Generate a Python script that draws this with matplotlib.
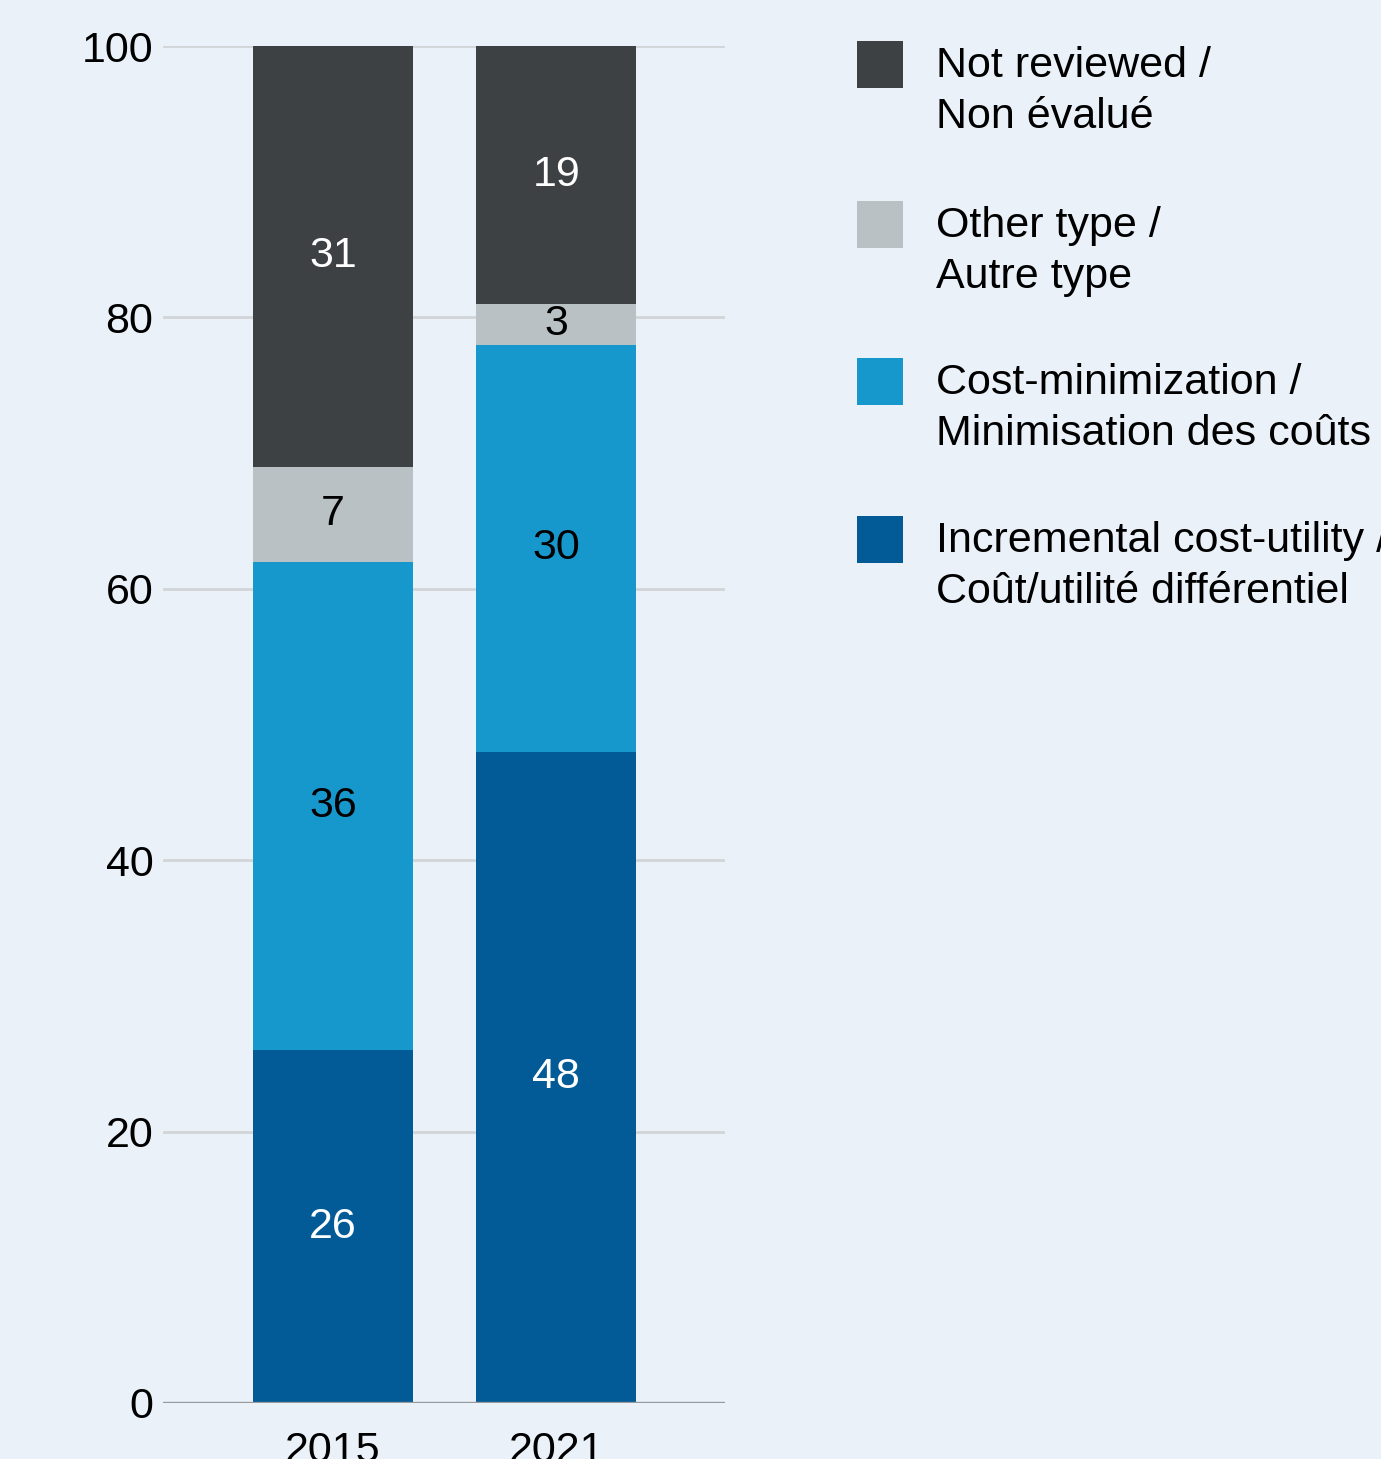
import matplotlib
matplotlib.use("Agg")
import matplotlib.pyplot as plt
from matplotlib.patches import Rectangle

plt.rcParams['font.family'] = ['Liberation Sans', 'DejaVu Sans']

years = ["2015", "2021"]
incremental_cost_utility = [26, 48]
cost_minimization = [36, 30]
other_type = [7, 3]
not_reviewed = [31, 19]

series = [
    ("Incremental cost-utility /\nCoût/utilité différentiel", incremental_cost_utility, "#025A96", "white"),
    ("Cost-minimization /\nMinimisation des coûts", cost_minimization, "#1798CD", "black"),
    ("Other type /\nAutre type", other_type, "#BAC1C4", "black"),
    ("Not reviewed /\nNon évalué", not_reviewed, "#3E4143", "white"),
]
yticks = [0, 20, 40, 60, 80, 100]

BG = "#EAF1F9"
FS = 31

W, H = 1381, 1459
fig = plt.figure(figsize=(W / 100, H / 100), dpi=100, facecolor=BG)
ax = fig.add_axes([163 / W, 1 - 1403 / H, (725 - 163) / W, (1403 - 46) / H])
ax.set_facecolor(BG)

x = list(range(len(years)))
bottom = [0] * len(years)
for label, vals, color, tcolor in series:
    ax.bar(x, vals, bottom=bottom, width=0.717, color=color, zorder=3, label=label)
    for xi, b, v in zip(x, bottom, vals):
        ax.text(xi, b + v / 2, str(v), ha="center", va="center",
                fontsize=FS, color=tcolor, zorder=4)
    bottom = [b + v for b, v in zip(bottom, vals)]

ax.set_xlim(-0.762, 1.756)
ax.set_ylim(0, 100)
ax.set_yticks(yticks)
ax.set_yticklabels([str(t) for t in yticks], fontsize=FS)
ax.set_xticks(x)
ax.set_xticklabels(years, fontsize=FS)
ax.tick_params(axis="both", length=0)
ax.tick_params(axis="y", pad=7)
ax.tick_params(axis="x", pad=20)
for t in yticks[1:]:
    ax.axhline(t, color="#D2D5D8", lw=2, zorder=1)
ax.axhline(0, color="#97999C", lw=2.4, zorder=5)
for s in ax.spines.values():
    s.set_visible(False)

# Legend, listed from the top segment down
entry_tops = [41, 201, 358, 516]
for (label, vals, color, tcolor), top in zip(series[::-1], entry_tops):
    fig.patches.append(Rectangle((857 / W, 1 - (top + 47) / H), 46 / W, 47 / H,
                                 transform=fig.transFigure, facecolor=color,
                                 edgecolor="none"))
    fig.text(936 / W, 1 - (top + 5) / H, label, fontsize=FS, color="black",
             ha="left", va="top", linespacing=1.34)

fig.savefig("out.png", dpi=100, facecolor=BG)
